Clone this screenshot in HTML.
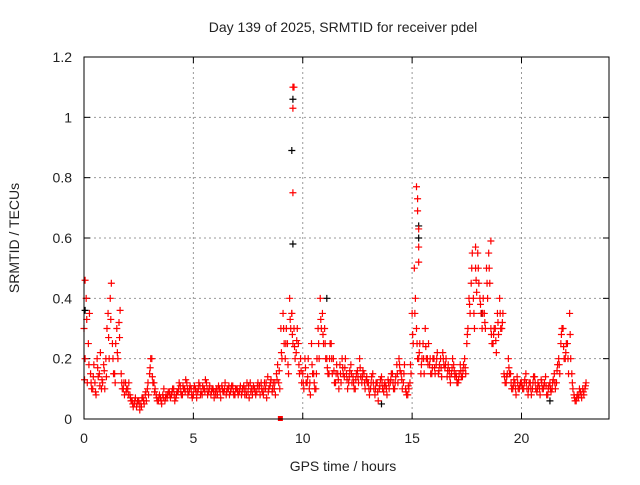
<!DOCTYPE html>
<html><head><meta charset="utf-8"><style>
body{margin:0;background:#fff}
svg text{font-family:"Liberation Sans",sans-serif;font-size:14px;fill:#222}
</style></head><body>
<svg id="chart" width="640" height="480">
<text x="343" y="32" text-anchor="middle">Day 139 of 2025, SRMTID for receiver pdel</text>
<g id="grid"></g>
<g id="ticks"></g>
<g id="pts"></g>
<rect x="84" y="57" width="525" height="362" fill="none" stroke="#000" stroke-width="1"/>
<text x="343" y="471" text-anchor="middle">GPS time / hours</text>
<text transform="translate(19,238) rotate(-90)" text-anchor="middle">SRMTID / TECUs</text>
</svg>
<script>
const xTicks=[0,5,10,15,20];
const yTicks=[0,0.2,0.4,0.6,0.8,1,1.2];
const yTickLabels=["0","0.2","0.4","0.6","0.8","1","1.2"];
const stepHours=0.1;
const mainVals=[
0.3,0.4,0.25,0.15,0.1,0.12,0.2,0.15,0.1,0.18,
0.2,0.35,0.4,0.25,0.15,0.3,0.32,0.15,0.1,0.12,
0.1,0.08,0.06,0.05,0.04,0.06,0.05,0.07,0.08,0.1,
0.15,0.2,0.12,0.08,0.06,0.07,0.08,0.06,0.07,0.09,
0.08,0.1,0.07,0.09,0.11,0.08,0.1,0.12,0.09,0.1,
0.08,0.1,0.09,0.11,0.08,0.1,0.12,0.09,0.08,0.1,
0.09,0.08,0.1,0.11,0.09,0.08,0.1,0.09,0.11,0.08,
0.1,0.09,0.08,0.11,0.1,0.09,0.12,0.08,0.1,0.09,
0.1,0.12,0.08,0.1,0.14,0.11,0.09,0.1,0.15,0.12,
0.3,0.35,0.2,0.25,0.4,0.35,0.3,0.22,0.25,0.2,
0.15,0.2,0.12,0.1,0.25,0.15,0.1,0.3,0.4,0.35,
0.3,0.2,0.15,0.25,0.2,0.12,0.15,0.18,0.2,0.14,
0.15,0.12,0.18,0.14,0.1,0.16,0.2,0.12,0.15,0.13,
0.12,0.1,0.15,0.08,0.12,0.1,0.14,0.09,0.11,0.13,
0.12,0.15,0.1,0.18,0.2,0.15,0.12,0.1,0.08,0.12,
0.35,0.5,0.3,0.2,0.15,0.25,0.3,0.2,0.18,0.15,
0.2,0.18,0.15,0.2,0.22,0.17,0.14,0.16,0.15,0.18,
0.15,0.12,0.18,0.14,0.2,0.25,0.4,0.45,0.4,0.5,
0.55,0.4,0.3,0.35,0.5,0.55,0.3,0.25,0.3,0.35,
0.4,0.3,0.15,0.12,0.2,0.15,0.1,0.12,0.14,0.1,
0.12,0.1,0.15,0.08,0.12,0.1,0.14,0.09,0.11,0.13,
0.1,0.14,0.08,0.12,0.1,0.15,0.12,0.2,0.25,0.3,
0.2,0.25,0.35,0.15,0.08,0.06,0.07,0.09,0.1,0.1];
const altVals=[
0.2,0.12,0.35,0.1,0.18,0.08,0.14,0.22,0.12,0.1,
0.3,0.2,0.45,0.15,0.25,0.2,0.36,0.1,0.08,0.1,
0.12,0.06,0.04,0.07,0.06,0.03,0.07,0.05,0.06,0.08,
0.2,0.12,0.1,0.06,0.08,0.05,0.1,0.08,0.09,0.07,
0.1,0.06,0.09,0.12,0.08,0.1,0.13,0.08,0.11,0.07,
0.11,0.07,0.12,0.09,0.1,0.13,0.08,0.11,0.1,0.07,
0.1,0.11,0.07,0.09,0.12,0.1,0.08,0.11,0.08,0.1,
0.08,0.11,0.1,0.08,0.12,0.07,0.1,0.11,0.08,0.12,
0.08,0.09,0.12,0.07,0.1,0.13,0.12,0.08,0.18,0.1,
0.2,0.25,0.3,0.15,0.3,0.25,0.2,0.3,0.15,0.12,
0.1,0.12,0.2,0.08,0.15,0.1,0.2,0.2,0.3,0.25,
0.2,0.15,0.25,0.15,0.12,0.18,0.1,0.12,0.15,0.2,
0.1,0.16,0.12,0.1,0.15,0.12,0.14,0.16,0.1,0.12,
0.08,0.14,0.1,0.12,0.06,0.13,0.1,0.12,0.08,0.1,
0.15,0.1,0.14,0.12,0.16,0.1,0.18,0.08,0.1,0.15,
0.25,0.4,0.2,0.25,0.2,0.15,0.2,0.25,0.15,0.2,
0.15,0.22,0.18,0.14,0.18,0.2,0.18,0.12,0.2,0.14,
0.12,0.15,0.14,0.18,0.15,0.3,0.35,0.55,0.3,0.42,
0.45,0.35,0.4,0.3,0.4,0.45,0.25,0.3,0.22,0.28,
0.3,0.35,0.12,0.15,0.15,0.1,0.13,0.08,0.1,0.12,
0.1,0.13,0.1,0.12,0.08,0.14,0.1,0.12,0.08,0.1,
0.12,0.08,0.11,0.09,0.13,0.1,0.18,0.15,0.3,0.2,
0.25,0.15,0.2,0.1,0.06,0.08,0.1,0.07,0.08,0.12];
const thirdVals=[
0.13,0.33,0.18,0.12,0.14,0.09,0.17,0.11,0.13,0.16,
0.14,0.27,0.33,0.2,0.12,0.22,0.27,0.12,0.12,0.09,
0.08,0.07,0.05,0.06,0.05,0.05,0.04,0.06,0.09,0.12,
0.17,0.14,0.09,0.07,0.07,0.06,0.07,0.07,0.08,0.08,
0.09,0.08,0.08,0.1,0.09,0.11,0.09,0.1,0.1,0.08,
0.1,0.09,0.1,0.08,0.11,0.09,0.1,0.1,0.09,0.09,
0.08,0.1,0.09,0.1,0.1,0.09,0.11,0.1,0.09,0.1,
0.09,0.1,0.09,0.1,0.08,0.11,0.09,0.1,0.09,0.11,
0.11,0.1,0.1,0.12,0.09,0.12,0.1,0.12,0.13,0.16,
0.22,0.3,0.25,0.18,0.33,0.28,0.24,0.26,0.18,0.16,
0.12,0.17,0.14,0.12,0.18,0.12,0.15,0.25,0.33,0.28,
0.25,0.17,0.2,0.2,0.16,0.15,0.13,0.15,0.17,0.17,
0.13,0.14,0.15,0.12,0.13,0.14,0.17,0.14,0.12,0.14,
0.1,0.12,0.12,0.1,0.09,0.11,0.12,0.11,0.1,0.12,
0.13,0.12,0.12,0.15,0.18,0.13,0.15,0.09,0.11,0.18,
0.28,0.35,0.25,0.22,0.18,0.2,0.24,0.18,0.2,0.17,
0.17,0.2,0.16,0.17,0.2,0.18,0.16,0.14,0.17,0.16,
0.14,0.13,0.16,0.16,0.17,0.28,0.38,0.5,0.35,0.46,
0.5,0.38,0.35,0.32,0.45,0.5,0.28,0.28,0.26,0.32,
0.35,0.32,0.14,0.14,0.17,0.12,0.11,0.1,0.12,0.11,
0.11,0.12,0.12,0.1,0.1,0.12,0.12,0.1,0.1,0.12,
0.11,0.11,0.1,0.1,0.12,0.12,0.16,0.18,0.28,0.24,
0.22,0.2,0.28,0.12,0.07,0.07,0.08,0.08,0.09,0.11];
const spikeTimes=[9.55,9.6,9.55,9.55,9.5,15.2,15.25,15.25,15.3,15.3,15.3,0.05,18.6,17.9];
const spikeVals=[1.1,1.1,1.03,0.75,0.35,0.77,0.73,0.69,0.63,0.57,0.52,0.46,0.59,0.57];
const blackTimes=[9.55,9.5,9.55,15.3,15.3,0.05,11.1,13.6,18.2,21.3];
const blackVals=[1.06,0.89,0.58,0.64,0.6,0.36,0.4,0.05,0.35,0.06];
const X0=84,X1=609,Y0=419,Y1=57,XMAX=24,YMAX=1.2;
function sx(v){return X0+(X1-X0)*v/XMAX;}
function sy(v){return Y0-(Y0-Y1)*v/YMAX;}
const NS="http://www.w3.org/2000/svg";
const grid=document.getElementById('grid'),ticks=document.getElementById('ticks'),pts=document.getElementById('pts');
function ln(g,x1,y1,x2,y2,st,da){const l=document.createElementNS(NS,'line');l.setAttribute('x1',x1);l.setAttribute('y1',y1);l.setAttribute('x2',x2);l.setAttribute('y2',y2);l.setAttribute('stroke',st);if(da)l.setAttribute('stroke-dasharray',da);g.appendChild(l);return l;}
function tx(x,y,s,a){const t=document.createElementNS(NS,'text');t.setAttribute('x',x);t.setAttribute('y',y);t.setAttribute('text-anchor',a);t.textContent=s;ticks.appendChild(t);return t;}
xTicks.forEach(v=>{const x=sx(v);
 const g=ln(grid,x,Y1,x,Y0,'#999','2,3');
 
 
 ln(ticks,x,Y0,x,Y0-6,'#000');ln(ticks,x,Y1,x,Y1+6,'#000');
 const t=tx(x,443,String(v),'middle');
 
 });
yTicks.forEach((v,i)=>{const y=sy(v);
 const g=ln(grid,X0,y,X1,y,'#999','2,3');
 
 
 ln(ticks,X0,y,X0+6,y,'#000');ln(ticks,X1,y,X1-6,y,'#000');
 const t=tx(72,y+5,yTickLabels[i],'end');
 
 });
function plus(t,v,c){const x=sx(t),y=sy(v);const p=document.createElementNS(NS,'path');
 p.setAttribute('d',`M${x-3.5} ${y}H${x+3.5}M${x} ${y-3.5}V${y+3.5}`);
 p.setAttribute('stroke',c);p.setAttribute('stroke-width','1.2');
 
 
 pts.appendChild(p);}
blackTimes.forEach((t,i)=>plus(t,blackVals[i],'#000'));
mainVals.forEach((v,i)=>plus(i*stepHours,v,'#f00'));
altVals.forEach((v,i)=>plus(i*stepHours+0.05,v,'#f00'));
thirdVals.forEach((v,i)=>plus(i*stepHours+0.025,v,'#f00'));
spikeTimes.forEach((t,i)=>plus(t,spikeVals[i],'#f00'));
const sq=document.createElementNS(NS,'rect');sq.setAttribute('x',sx(9)-3);sq.setAttribute('y',Y0-3);sq.setAttribute('width',5);sq.setAttribute('height',5);sq.setAttribute('fill','#f00');


pts.appendChild(sq);
</script>
</body></html>
